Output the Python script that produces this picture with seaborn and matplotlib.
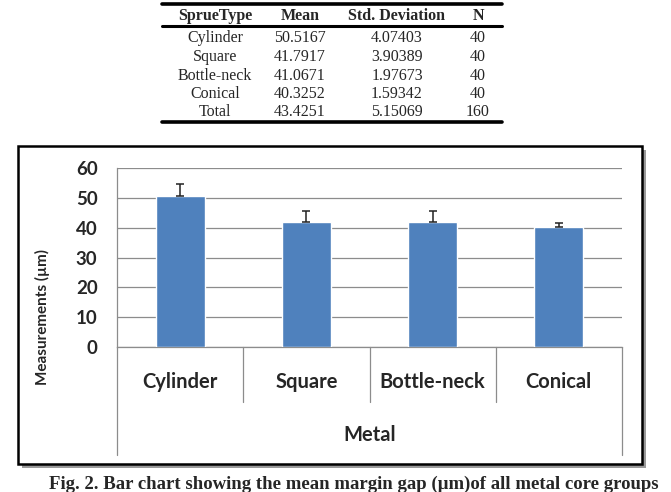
import matplotlib
matplotlib.use("Agg")
import matplotlib.pyplot as plt
import seaborn as sns
import pandas as pd
from matplotlib.lines import Line2D
from matplotlib.patches import Rectangle

# table at the top
table_cols = ["SprueType", "Mean", "Std. Deviation", "N"]
table_types = ["Cylinder", "Square", "Bottle-neck", "Conical", "Total"]
table_mean = [50.5167, 41.7917, 41.0671, 40.3252, 43.4251]
table_sd = [4.07403, 3.90389, 1.97673, 1.59342, 5.15069]
table_n = [40, 40, 40, 40, 160]

# bar chart
groups = ["Cylinder", "Square", "Bottle-neck", "Conical"]
bar_mean = [50.5, 41.8, 41.8, 40.3]
bar_err = [4.1, 3.9, 3.9, 1.4]

caption = "Fig. 2. Bar chart showing the mean margin gap (\u00b5m)of all metal core groups"

sns.set_theme(style="white")
plt.rcParams["font.family"] = ["Lato", "DejaVu Sans"]

W, H = 671, 492
fig = plt.figure(figsize=(W / 100, H / 100), dpi=100)
fx = lambda px: px / W
fy = lambda py: 1 - py / H

# ---- table ----
serif = ["Liberation Serif", "DejaVu Serif"]
tx0, tx1 = 162, 502
for y, lw in [(3.5, 2.6), (25.5, 2.2), (122, 2.6)]:
    fig.add_artist(Line2D([fx(tx0), fx(tx1)], [fy(y), fy(y)], color="black", lw=lw))
col_x = [215, 300, 397, 478]
for cx, c in zip(col_x, table_cols):
    fig.text(fx(cx), fy(15.5), c, ha="center", va="center", family=serif,
             fontsize=11.5, fontweight="bold")
row_y = [38.5, 57, 75.5, 94, 112]
for ry, t, m, s, n in zip(row_y, table_types, table_mean, table_sd, table_n):
    vals = [t, f"{m:.4f}", f"{s:.5f}", str(n)]
    for cx, v in zip(col_x, vals):
        fig.text(fx(cx), fy(ry), v, ha="center", va="center", family=serif, fontsize=11.5)

# ---- chart frame with shadow ----
fx0, fy0, fx1, fy1 = 18, 146, 642, 464
fig.add_artist(Rectangle((fx(fx0 + 4), fy(fy1 + 4)), fx(fx1) - fx(fx0), fy(fy0) - fy(fy1),
                         transform=fig.transFigure, facecolor="#9a9a9a", edgecolor="none", zorder=-2))
fig.add_artist(Rectangle((fx(fx0), fy(fy1)), fx(fx1) - fx(fx0), fy(fy0) - fy(fy1),
                         transform=fig.transFigure, facecolor="white", edgecolor="black",
                         lw=1.8, zorder=-1))

# ---- chart ----
ax_l, ax_r, ax_t, ax_b = 117, 622, 168, 347
ax = fig.add_axes([fx(ax_l), fy(ax_b), fx(ax_r) - fx(ax_l), fy(ax_t) - fy(ax_b)])
ax.set_zorder(2)
ax.set_facecolor("none")
df = pd.DataFrame({"group": groups, "mean": bar_mean})
sns.barplot(data=df, x="group", y="mean", color="#4F81BD", width=0.39,
            saturation=1, ax=ax, zorder=3)
ax.errorbar(range(len(groups)), bar_mean, yerr=[[0] * len(groups), bar_err],
            fmt="none", ecolor="#222222", elinewidth=1.1, capsize=3, capthick=1.1, zorder=4)

grid_c = "#8c8c8c"
ax.set_ylim(0, 60)
ax.set_xlim(-0.5, len(groups) - 0.5)
ax.set_yticks(range(0, 61, 10))
ax.yaxis.grid(True, color=grid_c, lw=0.9, zorder=0)
ax.set_axisbelow(True)
for sp in ["top", "right"]:
    ax.spines[sp].set_visible(False)
for sp in ["left", "bottom"]:
    ax.spines[sp].set_color(grid_c)
    ax.spines[sp].set_linewidth(0.9)
ax.tick_params(axis="y", length=5, width=0.9, color=grid_c, pad=9, labelsize=13.5)
ax.tick_params(axis="x", length=0, pad=18, labelsize=14.5)
for lab in ax.get_yticklabels() + ax.get_xticklabels():
    lab.set_fontweight("bold")
ax.set_xlabel("")
ax.set_ylabel("")

# category separators and outer lines of the category axis
tr = ax.get_xaxis_transform()
sep_len = (402 - ax_b) / (ax_b - ax_t)
out_len = (455 - ax_b) / (ax_b - ax_t)
for b in [0.5, 1.5, 2.5]:
    ax.add_line(Line2D([b, b], [0, -sep_len], transform=tr, color=grid_c, lw=0.9, clip_on=False))
for b in [-0.5, len(groups) - 0.5]:
    ax.add_line(Line2D([b, b], [0, -out_len], transform=tr, color=grid_c, lw=0.9, clip_on=False))

fig.text(fx((ax_l + ax_r) / 2), fy(435), "Metal", ha="center", va="center",
         fontsize=14.5, fontweight="bold")
fig.text(fx(42), fy(317), "Measurements (\u00b5m)", ha="center", va="center",
         rotation=90, fontsize=11, fontweight="bold")

# caption at the bottom edge
fig.text(fx(354), fy(489), caption, ha="center", va="baseline", family=serif,
         fontsize=13.5, fontweight="bold")

fig.savefig("out.png", dpi=100)
